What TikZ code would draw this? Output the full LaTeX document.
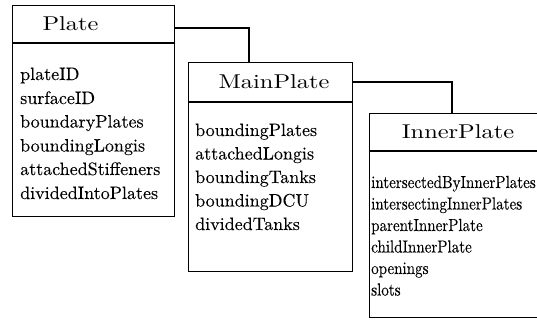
\documentclass[tikz,border=0pt]{standalone}
\usepackage{graphicx}
\usepackage{fontspec}
\setmainfont{lmroman10-regular.otf}
\newfontfamily\attrfont{lmroman10-regular.otf}[FakeBold=0.15]
\tikzset{
  classbox/.style={draw, line width=1.3pt, inner sep=0pt, anchor=north west},
  divider/.style={line width=1.1pt},
  link/.style={line width=1.1pt},
  classname/.style={inner sep=0pt, font=\fontsize{20}{24}\selectfont},
  attr/.style={inner sep=0pt, anchor=base west, font=\attrfont\fontsize{18}{22}\selectfont},
  attrnarrow/.style={inner sep=0pt, anchor=base west, font=\attrfont\fontsize{17.5}{21}\selectfont},
}
\newcommand{\wideword}[1]{\scalebox{1.22}[1]{#1}}
\newcommand{\narrowword}[1]{\scalebox{0.86}[1]{#1}}
\begin{document}
\begin{tikzpicture}[x=1pt, y=-1pt]
  \clip (0,0) rectangle (537,322);

  % class Plate
  \node[classbox, minimum width=162pt, minimum height=211pt] (plate) at (12,5) {};
  \draw[divider] (plate.west |- 0,43) coordinate (plate-dl) -- (plate.east |- 0,43) coordinate (plate-dr);
  \node[classname] (plate-title) at (70.5,24) {\wideword{Plate}};
  \node[attr] (plate-a1) at (20,80) {plateID};
  \node[attr] (plate-a2) at (20,104) {surfaceID};
  \node[attr] (plate-a3) at (20,127.5) {boundaryPlates};
  \node[attr] (plate-a4) at (20,151.5) {boundingLongis};
  \node[attr] (plate-a5) at (20,175) {attachedStiffeners};
  \node[attr] (plate-a6) at (20,199) {dividedIntoPlates};

  % class MainPlate
  \node[classbox, minimum width=164pt, minimum height=209pt] (main) at (188,62) {};
  \draw[divider] (main.west |- 0,102) coordinate (main-dl) -- (main.east |- 0,102) coordinate (main-dr);
  \node[classname] (main-title) at (274,82) {\wideword{MainPlate}};
  \node[attr] (main-a1) at (195,136) {boundingPlates};
  \node[attr] (main-a2) at (195,159.5) {attachedLongis};
  \node[attr] (main-a3) at (195,183) {boundingTanks};
  \node[attr] (main-a4) at (195,206.5) {boundingDCU};
  \node[attr] (main-a5) at (195,230) {dividedTanks};

  % class InnerPlate (runs off the right edge)
  \node[classbox, minimum width=180pt, minimum height=204pt] (inner) at (369,113) {};
  \draw[divider] (inner.west |- 0,151) coordinate (inner-dl) -- (inner.east |- 0,151) coordinate (inner-dr);
  \node[classname] (inner-title) at (458,132) {\wideword{InnerPlate}};
  \node[attrnarrow] (inner-a1) at (371,188) {\narrowword{intersectedByInnerPlates}};
  \node[attrnarrow] (inner-a2) at (371,209.5) {\narrowword{intersectingInnerPlates}};
  \node[attrnarrow] (inner-a3) at (371,231) {\narrowword{parentInnerPlate}};
  \node[attrnarrow] (inner-a4) at (371,252.5) {\narrowword{childInnerPlate}};
  \node[attrnarrow] (inner-a5) at (371,274) {\narrowword{openings}};
  \node[attrnarrow] (inner-a6) at (371,295.5) {\narrowword{slots}};

  % generalisation links
  \coordinate (main-in) at (249,62);
  \coordinate (inner-in) at (452,113);
  \draw[link] (plate.east |- 0,28) -| (main-in);
  \draw[link] (main.east |- 0,82) -| (inner-in);
\end{tikzpicture}
\end{document}
